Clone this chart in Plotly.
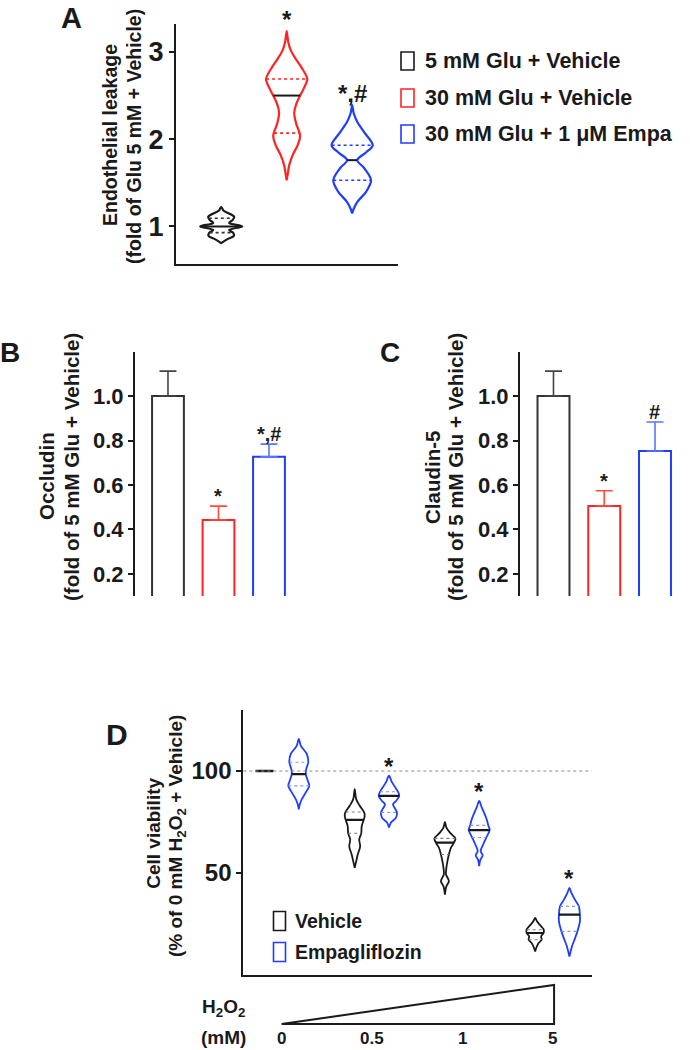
import numpy as np
import plotly.graph_objects as go

W, H = 690, 1050
FONT = "Liberation Sans, Arial, Helvetica, sans-serif"
INK = "#1a1a1a"
RED = "#ff2323"
BLUE = "#1f3dff"

# ---------------- Panel A: endothelial leakage (violins) ----------------
a_labels = ["5 mM Glu + Vehicle", "30 mM Glu + Vehicle", "30 mM Glu + 1 \u03bcM Empa"]
a_median = [1.00, 2.50, 1.76]
a_q1 = [0.93, 2.07, 1.53]
a_q3 = [1.095, 2.69, 1.93]
a_sig = ["", "*", "*,#"]
# violin outlines: value levels (top -> bottom) and relative density
a_prof_y0 = [1.222, 1.18, 1.14, 1.11, 1.075, 1.04, 1.0, 0.96, 0.925, 0.89, 0.855, 0.81]
a_prof_w0 = [0.0, 0.12, 0.45, 0.62, 0.55, 0.38, 1.0, 0.38, 0.58, 0.6, 0.3, 0.0]
a_prof_y1 = [3.24, 3.12, 3.02, 2.92, 2.82, 2.69, 2.58, 2.50, 2.40, 2.30, 2.18, 2.04, 1.93, 1.82, 1.70, 1.60, 1.53]
a_prof_w1 = [0.0, 0.07, 0.19, 0.43, 0.71, 0.98, 0.81, 0.64, 0.45, 0.36, 0.45, 0.64, 0.52, 0.29, 0.12, 0.05, 0.0]
a_prof_y2 = [2.39, 2.30, 2.20, 2.08, 1.93, 1.85, 1.76, 1.67, 1.53, 1.40, 1.28, 1.20, 1.15]
a_prof_w2 = [0.0, 0.07, 0.24, 0.57, 0.98, 0.67, 0.24, 0.57, 0.90, 0.67, 0.24, 0.07, 0.0]

# ---------------- Panel B / C: bar charts ----------------
bc_groups = ["5 mM Glu + Vehicle", "30 mM Glu + Vehicle", "30 mM Glu + 1 \u03bcM Empa"]
occludin_mean = [1.00, 0.443, 0.727]
occludin_sem = [0.112, 0.062, 0.057]
occludin_sig = ["", "*", "*,#"]
claudin_mean = [1.00, 0.506, 0.753]
claudin_sem = [0.112, 0.068, 0.130]
claudin_sig = ["", "*", "#"]
bc_ticks = [0.2, 0.4, 0.6, 0.8, 1.0]

# ---------------- Panel D: cell viability (violins) ----------------
d_doses = ["0", "0.5", "1", "5"]
d_veh_median = [100.0, 76.0, 64.8, 20.4]
d_veh_q1 = [100.0, 69.4, 59.0, 17.1]
d_veh_q3 = [100.0, 79.9, 66.9, 22.0]
d_emp_median = [98.5, 87.8, 71.0, 29.4]
d_emp_q1 = [92.7, 79.6, 67.3, 21.2]
d_emp_q3 = [104.3, 89.8, 73.3, 33.5]
d_emp_sig = ["", "*", "*", "*"]
d_veh_prof_y = [
    [100.0],
    [91.1, 86.2, 82.9, 79.6, 77.9, 76.0, 73.0, 69.4, 66.4, 62.9, 59.0, 55.6, 52.5],
    [75.0, 72.2, 69.7, 66.9, 64.8, 62.3, 59.0, 55.7, 52.5, 49.2, 45.9, 43.4, 39.3],
    [27.8, 26.0, 24.0, 22.2, 20.4, 18.8, 17.1, 15.5, 13.5, 11.3],
]
d_veh_prof_w = [
    [0.85],
    [0.0, 0.14, 0.48, 0.90, 0.95, 0.86, 0.67, 0.62, 0.43, 0.52, 0.29, 0.14, 0.0],
    [0.0, 0.14, 0.48, 1.0, 0.86, 0.57, 0.38, 0.24, 0.14, 0.10, 0.38, 0.14, 0.0],
    [0.0, 0.19, 0.52, 0.81, 0.81, 0.57, 0.62, 0.33, 0.14, 0.0],
]
d_emp_prof_y = [
    [115.8, 112.5, 108.4, 104.3, 101.0, 98.5, 95.2, 92.7, 89.5, 86.2, 83.7, 81.2],
    [97.7, 94.4, 91.1, 89.8, 87.8, 85.3, 83.7, 81.6, 79.6, 77.1, 74.7, 72.2],
    [85.3, 82.1, 78.8, 75.5, 73.3, 71.0, 67.3, 64.0, 60.7, 58.5, 56.2, 53.3],
    [42.6, 40.1, 36.8, 33.5, 29.4, 26.1, 21.2, 17.1, 13.8, 8.8],
]
d_emp_prof_w = [
    [0.0, 0.19, 0.76, 0.90, 0.71, 0.67, 0.86, 1.0, 0.67, 0.29, 0.10, 0.0],
    [0.0, 0.29, 0.71, 0.86, 0.98, 0.67, 0.38, 0.57, 0.76, 0.67, 0.19, 0.0],
    [0.0, 0.24, 0.52, 0.76, 0.86, 1.0, 0.67, 0.38, 0.14, 0.33, 0.10, 0.0],
    [0.0, 0.19, 0.52, 0.90, 1.0, 1.0, 0.76, 0.48, 0.24, 0.0],
]

# ---------------- layout helpers (pixel geometry) ----------------
def xdom(x0, x1):
    return [x0 / W, x1 / W]


def ydom(top, bottom):
    return [1 - bottom / H, 1 - top / H]


def px(x):
    return x / W


def py(y):
    return 1 - y / H


AX = {
    "A": dict(xd=(176, 398), xr=(-0.69, 2.70), yd=(24, 264), yr=(0.57, 3.32)),
    "B": dict(xd=(135, 300), xr=(-0.653, 2.614), yd=(352, 596), yr=(0.101, 1.198)),
    "C": dict(xd=(520, 690), xr=(-0.66, 2.69), yd=(352, 596), yr=(0.101, 1.198)),
    "D": dict(xd=(243.3, 591.7), xr=(-0.425, 3.437), yd=(710, 974.5), yr=(0.0, 130.0)),
}


def ppu(key):
    a = AX[key]
    return (a["xd"][1] - a["xd"][0]) / (a["xr"][1] - a["xr"][0])


fig = go.Figure()


def draw_violin(xa, ya, key, xc, prof_y, prof_w, q1, med, q3, color, qcolor,
                maxw_px, lw, med_w, q_w, q_dash):
    pyv = np.asarray(prof_y, float)
    pwv = np.asarray(prof_w, float) * maxw_px / ppu(key)
    if len(pyv) > 1:
        xs = np.concatenate([xc + pwv, (xc - pwv)[::-1]])
        ys = np.concatenate([pyv, pyv[::-1]])
        fig.add_trace(go.Scatter(
            x=xs, y=ys, mode="lines",
            line=dict(color=color, width=lw, shape="spline", smoothing=0.9),
            xaxis=xa, yaxis=ya, hoverinfo="skip", showlegend=False))
        order = np.argsort(pyv)

        def hw(v):
            return float(np.interp(v, pyv[order], pwv[order]))
    else:
        def hw(v):
            return float(pwv[0])
    for v, dash, c, w in [(q1, q_dash, qcolor, q_w), (q3, q_dash, qcolor, q_w),
                          (med, "solid", INK, med_w)]:
        h = hw(v)
        fig.add_trace(go.Scatter(
            x=[xc - h, xc + h], y=[v, v], mode="lines",
            line=dict(color=c, width=w, dash=dash),
            xaxis=xa, yaxis=ya, hoverinfo="skip", showlegend=False))


annotations = []
shapes = []


def text(x, y, s, size, xanchor="center", yanchor="middle", angle=0, xref="paper",
         yref="paper", yshift=0, color=INK):
    annotations.append(dict(
        x=x, y=y, xref=xref, yref=yref, text=s, showarrow=False,
        xanchor=xanchor, yanchor=yanchor, textangle=angle, yshift=yshift,
        font=dict(family=FONT, size=size, color=color, weight="bold")))


# ---------------- Panel A ----------------
a_colors = [INK, RED, BLUE]
a_qcolors = ["#333333", RED, BLUE]
a_profs = [(a_prof_y0, a_prof_w0), (a_prof_y1, a_prof_w1), (a_prof_y2, a_prof_w2)]
for i, (pyl, pwl) in enumerate(a_profs):
    draw_violin("x", "y", "A", i, pyl, pwl, a_q1[i], a_median[i], a_q3[i],
                a_colors[i], a_qcolors[i], 21.0, 2.2, 2.0, 1.6, "dot")
    if a_sig[i]:
        text(i, max(pyl), a_sig[i], 24, yanchor="bottom", xref="x", yref="y", yshift=-4)

# ---------------- Panel B & C ----------------
bar_line = ["#333333", RED, BLUE]
err_col = ["#444444", "#ff4a40", "#5c76ff"]
for key, xa, ya, mean, sem, sig in [("B", "x2", "y2", occludin_mean, occludin_sem, occludin_sig),
                                     ("C", "x3", "y3", claudin_mean, claudin_sem, claudin_sig)]:
    for i in range(3):
        fig.add_trace(go.Bar(
            x=[i], y=[mean[i]], width=0.63, xaxis=xa, yaxis=ya,
            marker=dict(color="white", line=dict(color=bar_line[i], width=2)),
            error_y=dict(type="data", array=[sem[i]], arrayminus=[0], symmetric=False,
                         color=err_col[i], thickness=1.6, width=8.5),
            hoverinfo="skip", showlegend=False))
        if sig[i]:
            text(i, mean[i] + sem[i], sig[i], 20, yanchor="bottom", xref=xa, yref=ya, yshift=-3)

# ---------------- Panel D ----------------
D_OFF = 0.19
for g in range(4):
    draw_violin("x4", "y4", "D", g - D_OFF, d_veh_prof_y[g], d_veh_prof_w[g],
                d_veh_q1[g], d_veh_median[g], d_veh_q3[g], INK, "#808080",
                10.5, 1.8, 2.6 if g == 0 else 2.2, 1.1, "dot")
    draw_violin("x4", "y4", "D", g + D_OFF, d_emp_prof_y[g], d_emp_prof_w[g],
                d_emp_q1[g], d_emp_median[g], d_emp_q3[g], BLUE, "#7f95ff",
                10.5, 1.8, 2.2, 1.1, "dot")
    if d_emp_sig[g]:
        text(g + D_OFF, max(d_emp_prof_y[g]), d_emp_sig[g], 24, yanchor="bottom",
             xref="x4", yref="y4", yshift=-6)
    text(g, py(1038), d_doses[g], 17, xref="x4")

# reference line at 100 %
shapes.append(dict(type="line", xref="x4 domain", yref="y4", x0=0, x1=1, y0=100, y1=100,
                   line=dict(color="#8a8a8a", width=1, dash="dot")))
# H2O2 gradient wedge under the doses
shapes.append(dict(type="path", xref="x4", yref="paper",
                   path=f"M 0,{py(1024)} L 3.02,{py(1024)} L 3.02,{py(985)} Z",
                   line=dict(color=INK, width=2), fillcolor="rgba(0,0,0,0)"))
text(px(223), py(1008), "H<sub>2</sub>O<sub>2</sub>", 19)
text(px(223), py(1037), "(mM)", 19)

# ---------------- legends ----------------
for i, lab in enumerate(a_labels):
    yc = [61, 98, 134][i]
    shapes.append(dict(type="rect", xref="paper", yref="paper", x0=px(401), x1=px(414),
                       y0=py(yc + 9), y1=py(yc - 9), line=dict(color=a_colors[i], width=1.6)))
    text(px(423), py(yc), lab, 21.5, xanchor="left")
for lab, col, yc in [("Vehicle", INK, 921), ("Empagliflozin", BLUE, 952)]:
    shapes.append(dict(type="rect", xref="paper", yref="paper", x0=px(273.5), x1=px(285.5),
                       y0=py(yc + 9.5), y1=py(yc - 9.5), line=dict(color=col, width=1.6)))
    text(px(292.6), py(yc), lab, 19.5, xanchor="left")

# ---------------- axis titles & panel letters ----------------
text(px(110), py(135), "Endothelial leakage", 19.5, angle=-90)
text(px(134), py(137), "(fold of Glu 5 mM + Vehicle)", 19.5, angle=-90)
text(px(46), py(476), "Occludin", 20.5, angle=-90)
text(px(72), py(467), "(fold of 5 mM Glu + Vehicle)", 20.5, angle=-90)
text(px(432), py(478), "Claudin-5", 20.5, angle=-90)
text(px(456), py(467), "(fold of 5 mM Glu + Vehicle)", 20.5, angle=-90)
text(px(152.8), py(833), "Cell viability", 19, angle=-90)
text(px(177), py(836), "(% of 0 mM H<sub>2</sub>O<sub>2</sub> + Vehicle)", 19, angle=-90)
text(px(71), py(0), "A", 29, yanchor="top")
text(px(10), py(352), "B", 28)
text(px(390), py(352), "C", 28)
text(px(116.6), py(734), "D", 30)


def yaxis(key, tickvals, ticktext, size):
    a = AX[key]
    return dict(domain=ydom(*a["yd"]), range=list(a["yr"]), showline=True, linecolor=INK,
                linewidth=2, ticks="outside", ticklen=5, tickwidth=2, tickcolor=INK,
                tickvals=tickvals, ticktext=ticktext, showgrid=False, zeroline=False,
                tickfont=dict(family=FONT, size=size, color=INK, weight="bold"))


def xaxis(key, anchor, line):
    a = AX[key]
    return dict(domain=xdom(*a["xd"]), range=list(a["xr"]), anchor=anchor, showline=line,
                linecolor=INK, linewidth=2, showticklabels=False, ticks="",
                showgrid=False, zeroline=False)


fig.update_layout(
    width=W, height=H, margin=dict(l=0, r=0, t=0, b=0),
    paper_bgcolor="white", plot_bgcolor="white", barmode="overlay",
    showlegend=False,
    xaxis=xaxis("A", "y", True),
    yaxis=yaxis("A", [1, 2, 3], ["1", "2", "3"], 27) | dict(anchor="x"),
    xaxis2=xaxis("B", "y2", False),
    yaxis2=yaxis("B", bc_ticks, [f"{t:.1f}" for t in bc_ticks], 22) | dict(anchor="x2"),
    xaxis3=xaxis("C", "y3", False),
    yaxis3=yaxis("C", bc_ticks, [f"{t:.1f}" for t in bc_ticks], 22) | dict(anchor="x3"),
    xaxis4=xaxis("D", "y4", True),
    yaxis4=yaxis("D", [50, 100], ["50", "100"], 24) | dict(anchor="x4"),
    annotations=annotations, shapes=shapes,
)

fig.write_html("out.html", config={"displayModeBar": False},
               post_script="document.body.style.margin='0';")
